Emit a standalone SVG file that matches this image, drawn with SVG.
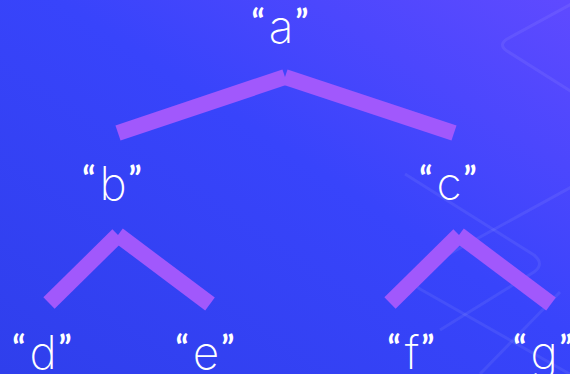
<svg xmlns="http://www.w3.org/2000/svg" width="570" height="374" viewBox="0 0 570 374">
<defs>
<linearGradient id="bg" x1="0" y1="1" x2="1" y2="0">
<stop offset="0" stop-color="#2f3fec"/>
<stop offset="0.55" stop-color="#3844fb"/>
<stop offset="1" stop-color="#5f4aff"/>
</linearGradient>
<style>
.edge{stroke:#a158fc;stroke-width:16;fill:none;stroke-linecap:butt}
.deco{stroke:#ffffff;stroke-opacity:0.07;stroke-width:3;fill:none;stroke-linejoin:round}
.lbl{font-family:Inter,"Liberation Sans",sans-serif;font-weight:200;font-size:46px;fill:#ffffff;text-anchor:middle}
.q{font-family:Lato,"Liberation Sans",sans-serif;font-weight:700;font-size:34px}
</style>
</defs>
<rect width="570" height="374" fill="url(#bg)"/>
<g id="decoration">
<path class="deco" d="M575,2 L507,39 Q498,45 507,51 L575,94"/>
<path class="deco" d="M405,174 L534,255 Q545,264 534,272 L440,330"/>
<path class="deco" d="M575,185 L420,270 Q405,279 420,289 L575,377"/>
<path class="deco" d="M560,292 L480,374"/>
</g>
<g id="connectors">
<line class="edge" x1="118" y1="133" x2="285" y2="77"/>
<line class="edge" x1="285" y1="77" x2="454" y2="133"/>
<line class="edge" x1="49" y1="303" x2="118" y2="235"/>
<line class="edge" x1="118" y1="235" x2="210" y2="304"/>
<line class="edge" x1="390" y1="303" x2="459" y2="235"/>
<line class="edge" x1="459" y1="235" x2="551" y2="304"/>
</g>
<g id="node-a"><text class="lbl" x="280" y="43"><tspan class="q" dy="-9">“</tspan><tspan dx="4" dy="9">a</tspan><tspan class="q" dx="2" dy="-9">”</tspan></text></g>
<g id="node-b"><text class="lbl" x="112" y="200"><tspan class="q" dy="-9">“</tspan><tspan dx="4" dy="9">b</tspan><tspan class="q" dx="2" dy="-9">”</tspan></text></g>
<g id="node-c"><text class="lbl" x="448" y="200"><tspan class="q" dy="-9">“</tspan><tspan dx="4" dy="9">c</tspan><tspan class="q" dx="2" dy="-9">”</tspan></text></g>
<g id="node-d"><text class="lbl" x="42" y="369"><tspan class="q" dy="-9">“</tspan><tspan dx="4" dy="9">d</tspan><tspan class="q" dx="2" dy="-9">”</tspan></text></g>
<g id="node-e"><text class="lbl" x="205" y="369"><tspan class="q" dy="-9">“</tspan><tspan dx="4" dy="9">e</tspan><tspan class="q" dx="2" dy="-9">”</tspan></text></g>
<g id="node-f"><text class="lbl" x="411" y="369"><tspan class="q" dy="-9">“</tspan><tspan dx="4" dy="9">f</tspan><tspan class="q" dx="2" dy="-9">”</tspan></text></g>
<g id="node-g"><text class="lbl" x="543" y="369"><tspan class="q" dy="-9">“</tspan><tspan dx="4" dy="9">g</tspan><tspan class="q" dx="2" dy="-9">”</tspan></text></g>
</svg>
